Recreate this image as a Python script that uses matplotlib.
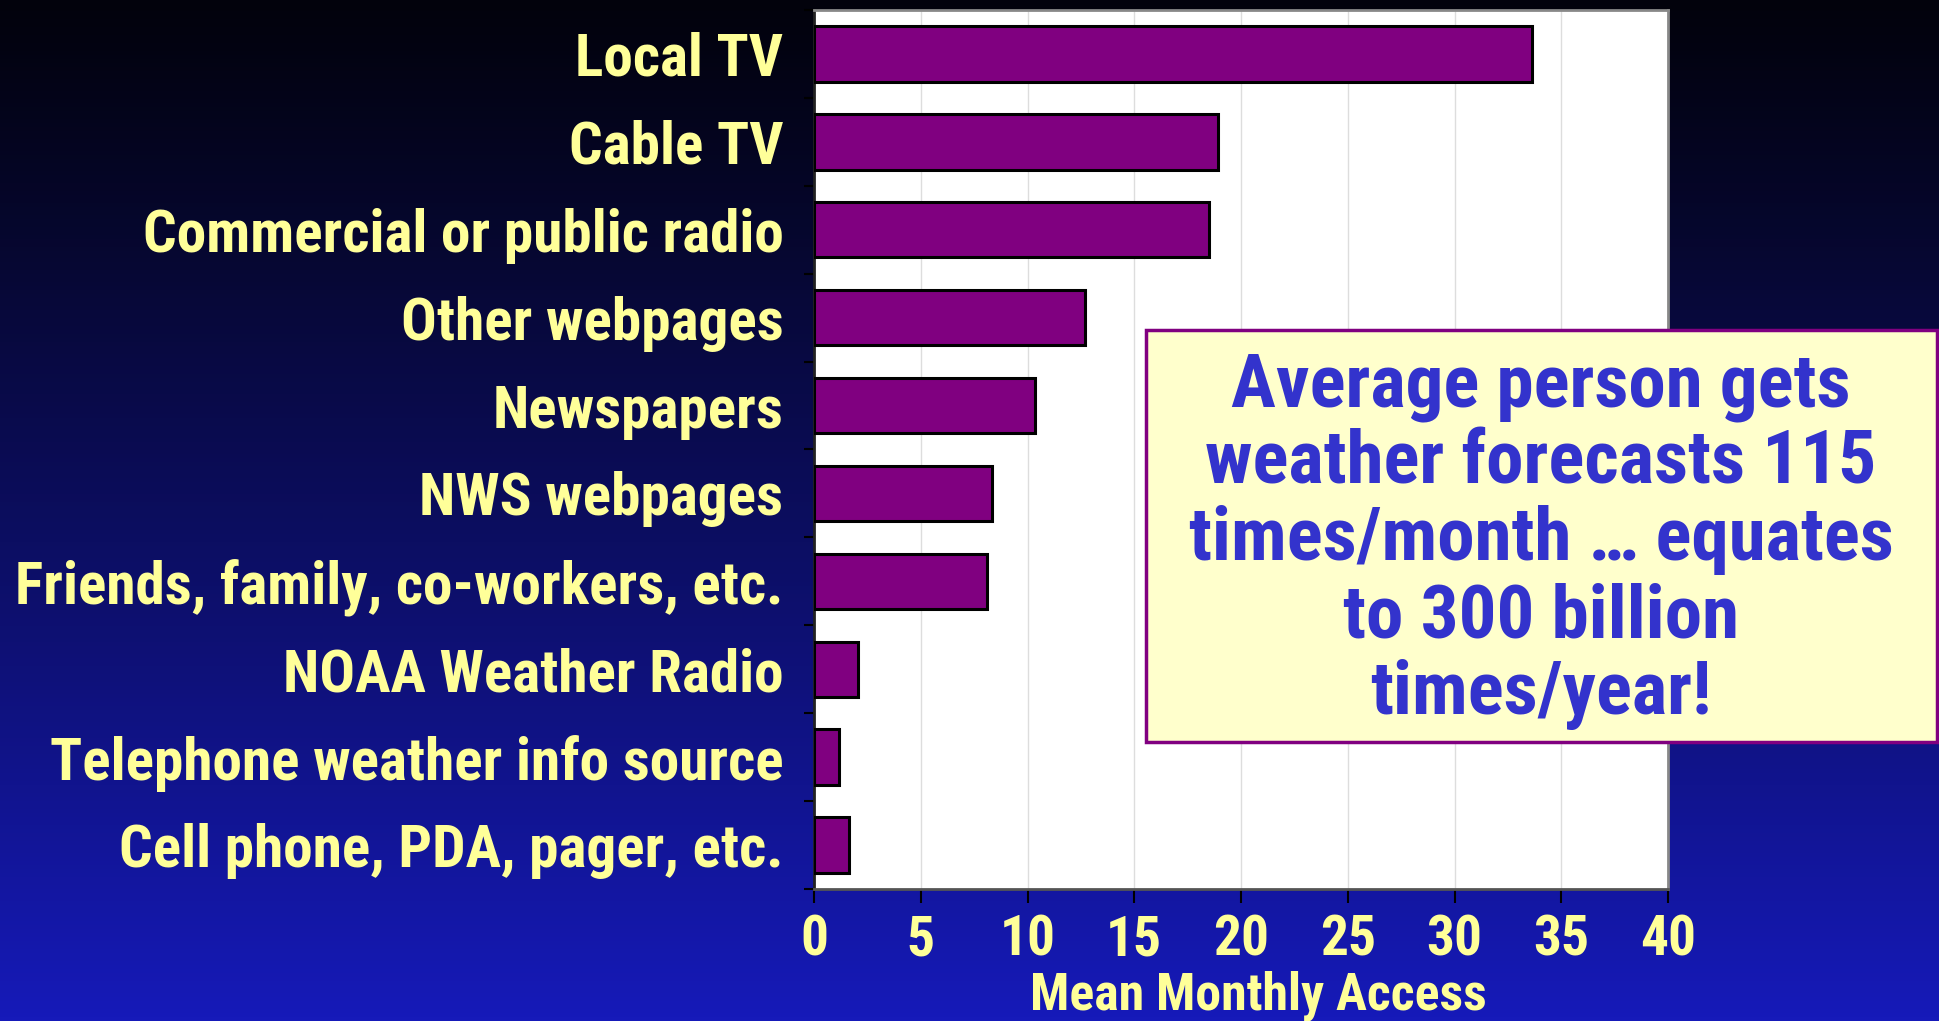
import numpy as np
import matplotlib
matplotlib.use("Agg")
import matplotlib.pyplot as plt
from matplotlib import font_manager as fm
from matplotlib.patches import Rectangle

categories = ["Local TV", "Cable TV", "Commercial or public radio", "Other webpages",
              "Newspapers", "NWS webpages", "Friends, family, co-workers, etc.",
              "NOAA Weather Radio", "Telephone weather info source",
              "Cell phone, PDA, pager, etc."]
values = [33.65, 18.9, 18.5, 12.67, 10.34, 8.35, 8.08, 2.07, 1.15, 1.64]
xticks = [0, 5, 10, 15, 20, 25, 30, 35, 40]
xlabel = "Mean Monthly Access"
note_lines = ["Average person gets", "weather forecasts 115", "times/month \u2026 equates",
              "to 300 billion", "times/year!"]


def find_condensed_bold():
    prefs = ["Roboto Condensed", "DejaVu Sans", "Liberation Sans Narrow", "Open Sans Condensed",
             "Noto Sans"]
    found = {}
    for f in fm.fontManager.ttflist:
        w = f.weight if isinstance(f.weight, int) else (700 if "bold" in str(f.weight).lower() else 400)
        cond = ("condensed" in str(f.stretch).lower() or "Condensed" in f.name or "Narrow" in f.name
                or "Condensed" in f.fname or "Narrow" in f.fname)
        if cond and 600 <= w <= 800 and "italic" not in f.style and "oblique" not in f.style:
            for p in prefs:
                if f.name.startswith(p) and p not in found:
                    found[p] = f.fname
    for p in prefs:
        if p in found:
            return fm.FontProperties(fname=found[p])
    return fm.FontProperties(family=["Open Sans", "DejaVu Sans"], weight="bold")


BASE = find_condensed_bold()


def fp(size):
    p = BASE.copy()
    p.set_size(size)
    return p


W, H = 1939, 1021
fig = plt.figure(figsize=(W / 100, H / 100), dpi=100)
renderer = fig.canvas.get_renderer()


def size_for(text, target_px, ref_size=40.0):
    t = fig.text(0, 0, text, fontproperties=fp(ref_size))
    w = t.get_window_extent(renderer).width
    t.remove()
    return ref_size * target_px / w


# gradient background
bg = fig.add_axes([0, 0, 1, 1], zorder=-10)
t = np.linspace(0, 1, 256)[:, None]
top = np.array([2, 2, 12]) / 255
bot = np.array([22, 26, 185]) / 255
grad = top[None, None, :] * (1 - t[..., None] ** 1.1) + bot[None, None, :] * (t[..., None] ** 1.1)
grad = np.repeat(grad, 2, axis=1)
bg.imshow(grad, aspect="auto", extent=[0, 1, 0, 1], origin="upper")
bg.set_axis_off()

x0, x1 = 814 / W, 1668 / W
y_top, y_bot = 10 / H, 889 / H
ax = fig.add_axes([x0, 1 - y_bot, x1 - x0, y_bot - y_top])
ax.set_facecolor("white")

ypos = np.arange(len(categories))
ax.barh(ypos, values, height=0.63, color="#800080", edgecolor="black", linewidth=2.2, zorder=3)
ax.set_xlim(0, 40)
ax.set_ylim(len(categories) - 0.5, -0.5)
ax.set_xticks(xticks)
ax.set_yticks(ypos)
ax.set_yticks(np.arange(len(categories) + 1) - 0.5, minor=True)

lab_size = size_for("Friends, family, co-workers, etc.", 768)
tick_size = size_for("40", 56)
xl_size = size_for(xlabel, 455)
note_size = size_for("times/month \u2026 equates", 705)

ax.set_yticklabels(categories, fontproperties=fp(lab_size), color="#FFFF99")
ax.set_xticklabels([str(v) for v in xticks], fontproperties=fp(tick_size), color="#FFFF99")
ax.tick_params(axis="y", which="major", length=0, pad=22)
ax.tick_params(axis="y", which="minor", length=7, width=1.5, color="black", direction="out")
ax.tick_params(axis="x", length=10, width=1.5, color="black", direction="out", pad=8)
ax.grid(axis="x", color="#dddddd", linewidth=1, zorder=0)
for s in ["top", "right"]:
    ax.spines[s].set_color("#888888")
    ax.spines[s].set_linewidth(2)
ax.spines["left"].set_color("#222222")
ax.spines["left"].set_linewidth(2)
ax.spines["bottom"].set_color("#555555")
ax.spines["bottom"].set_linewidth(2)

fig.text(1258 / W, 0.5 / H, xlabel, ha="center", va="bottom", fontproperties=fp(xl_size),
         color="#FFFF99")

# note box
bx0, bx1 = 1146 / W, 1937 / W
by0, by1 = 1 - 742 / H, 1 - 330 / H
fig.patches.append(Rectangle((bx0, by0), bx1 - bx0, by1 - by0, transform=fig.transFigure,
                             facecolor="#FFFFCC", edgecolor="#800080", linewidth=2.5, zorder=5))
baselines = [406, 483, 560, 637, 714]
for line, yb in zip(note_lines, baselines):
    fig.text(1541 / W, 1 - yb / H, line, ha="center", va="baseline",
             fontproperties=fp(note_size), color="#3333CC", zorder=6)

fig.savefig("out.png", dpi=100)
